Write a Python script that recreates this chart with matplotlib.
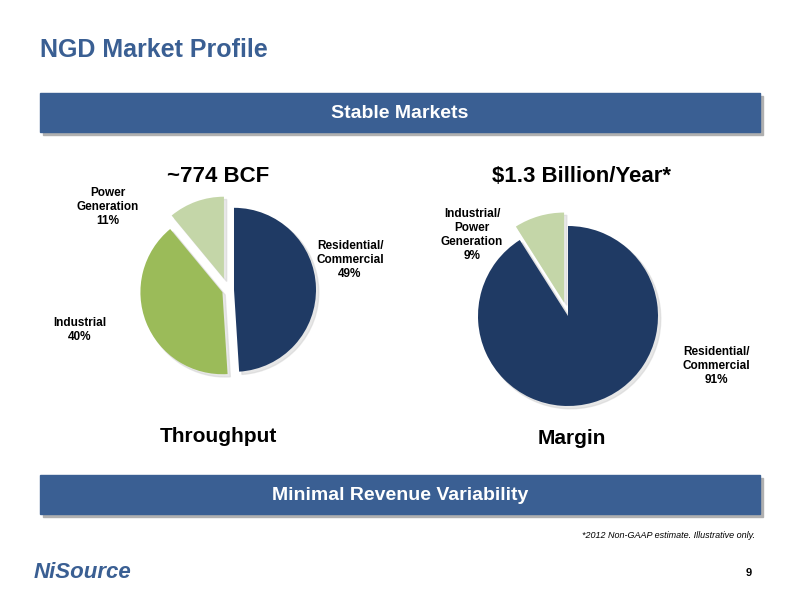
import matplotlib.pyplot as plt
from matplotlib.patches import Rectangle

plt.rcParams['font.family'] = ['Liberation Sans', 'DejaVu Sans']

throughput_labels = ['Residential/\nCommercial\n49%', 'Industrial\n40%', 'Power\nGeneration\n11%']
throughput_values = [49, 40, 11]
margin_labels = ['Residential/\nCommercial\n91%', 'Industrial/\nPower\nGeneration\n9%']
margin_values = [91, 9]

navy = '#1f3a64'
green = '#9bbb59'
light_green = '#c4d6a8'
blue = '#3a5f93'

fig = plt.figure(figsize=(8, 6), dpi=100)
W, H = 800, 600

def px_axes(x, y, w, h):
    return fig.add_axes([x / W, 1 - (y + h) / H, w / W, h / H])

bg = fig.add_axes([0, 0, 1, 1])
bg.set_xlim(0, W)
bg.set_ylim(H, 0)
bg.axis('off')

bg.text(40, 50, 'NGD Market Profile', color=blue, fontsize=18, fontweight='bold', va='center')
for y0, txt in [(93, 'Stable Markets'), (475, 'Minimal Revenue Variability')]:
    bg.add_patch(Rectangle((43, y0 + 3), 720, 39, color='#b0b0b0'))
    bg.add_patch(Rectangle((40, y0), 720, 39, color=blue))
    bg.text(400, y0 + 20, txt, color='white', fontsize=14, fontweight='bold', ha='center', va='center')

bg.text(218, 176, '~774 BCF', fontsize=16, fontweight='bold', ha='center', va='center')
bg.text(582, 176, '$1.3 Billion/Year*', fontsize=16, fontweight='bold', ha='center', va='center')
bg.text(218, 437, 'Throughput', fontsize=15, fontweight='bold', ha='center', va='center')
bg.text(572, 439, 'Margin', fontsize=15, fontweight='bold', ha='center', va='center')
bg.text(755, 535, '*2012 Non-GAAP estimate. Illustrative only.', fontsize=6.5, style='italic', ha='right', va='center')
bg.text(34, 572, 'NiSource', color=blue, fontsize=16, fontweight='bold', style='italic', va='center')
bg.text(752, 573, '9', fontsize=8, fontweight='bold', ha='right', va='center')

ax1 = px_axes(128, 190, 200, 200)
ax1.pie(throughput_values, colors=[navy, green, light_green], startangle=90, counterclock=False,
        explode=[0.06, 0.06, 0.12], radius=0.82, shadow={'color': '#d0d0d0', 'ox': 0.02, 'oy': -0.02})
ax1.set_xlim(-1, 1)
ax1.set_ylim(-1, 1)
ax1.set_aspect('equal')
lab = dict(fontsize=8.5, fontweight='bold', ha='center', va='center')
bg.text(350, 260, throughput_labels[0], **lab)
bg.text(80, 330, throughput_labels[1], **lab)
bg.text(108, 207, throughput_labels[2], **lab)

ax2 = px_axes(468, 216, 200, 200)
ax2.pie(margin_values, colors=[navy, light_green], startangle=90, counterclock=False,
        explode=[0, 0.14], radius=0.9, shadow={'color': '#d0d0d0', 'ox': 0.02, 'oy': -0.02})
ax2.set_xlim(-1, 1)
ax2.set_ylim(-1, 1)
ax2.set_aspect('equal')
bg.text(716, 366, margin_labels[0], **lab)
bg.text(472, 235, margin_labels[1], **lab)

fig.savefig('out.png')
